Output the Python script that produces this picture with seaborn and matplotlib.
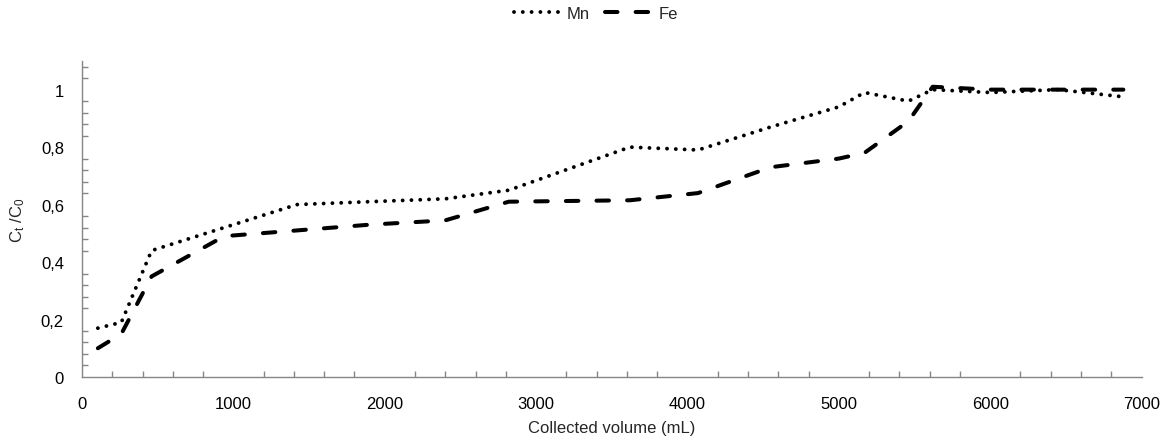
import matplotlib
matplotlib.use('Agg')
import matplotlib.pyplot as plt
import pandas as pd
import seaborn as sns
from matplotlib.ticker import MultipleLocator, FuncFormatter

# collected volume (mL) and normalised concentrations Ct/C0
volume = [105, 260, 460, 940, 1420, 1900, 2400, 2820, 3620, 4070, 4550, 5000,
          5170, 5460, 5620, 6000, 6450, 6880]
mn = [0.17, 0.19, 0.44, 0.52, 0.60, 0.61, 0.62, 0.65, 0.80, 0.79, 0.87, 0.94,
      0.99, 0.96, 1.00, 0.99, 1.00, 0.975]
fe = [0.10, 0.15, 0.35, 0.49, 0.51, 0.53, 0.545, 0.61, 0.615, 0.64, 0.73, 0.76,
      0.78, 0.89, 1.01, 1.00, 1.00, 1.00]
series = ['Mn', 'Fe']

df = pd.DataFrame({
    'volume': volume * 2,
    'value': mn + fe,
    'metal': ['Mn'] * len(mn) + ['Fe'] * len(fe),
})

sns.set_style("white")
plt.rcParams['font.family'] = ['Liberation Sans', 'DejaVu Sans']
plt.rcParams['mathtext.default'] = 'regular'

fig, ax = plt.subplots(figsize=(11.66, 4.39), dpi=100)
fig.subplots_adjust(left=0.0703, right=0.979, bottom=0.139, top=0.859)

sns.lineplot(data=df[df.metal == 'Mn'], x='volume', y='value', color='black',
             linewidth=2.8, dashes=False, ax=ax, label='Mn')
sns.lineplot(data=df[df.metal == 'Fe'], x='volume', y='value', color='black',
             linewidth=2.9, dashes=False, ax=ax, label='Fe')

lines = ax.get_lines()
lines[0].set_dashes((0.01, 2.25))
lines[0].set_dash_capstyle('round')
lines[1].set_dashes((3.1, 4.5))
lines[1].set_dash_capstyle('round')

ax.set_xlim(0, 7000)
ax.set_ylim(0, 1.1)
ax.xaxis.set_major_locator(MultipleLocator(1000))
ax.xaxis.set_minor_locator(MultipleLocator(200))
ax.yaxis.set_major_locator(MultipleLocator(0.2))
ax.yaxis.set_minor_locator(MultipleLocator(0.04))


def comma_fmt(v, pos):
    if abs(v - round(v)) < 1e-9:
        return f'{int(round(v))}'
    return f'{v:.1f}'.replace('.', ',')


ax.yaxis.set_major_formatter(FuncFormatter(comma_fmt))

for s in ['top', 'right']:
    ax.spines[s].set_visible(False)
for s in ['left', 'bottom']:
    ax.spines[s].set_color('#868686')
    ax.spines[s].set_linewidth(1.0)

ax.tick_params(which='major', direction='inout', length=10, width=1, color='#868686',
               labelsize=12, labelcolor='black')
ax.tick_params(axis='x', which='major', pad=9)
ax.tick_params(axis='y', which='major', pad=8)
ax.tick_params(which='minor', direction='in', length=4, width=1, color='#868686')
ax.tick_params(axis='x', which='minor', bottom=True)
ax.tick_params(axis='y', which='minor', left=True)

ax.set_xlabel('Collected volume (mL)', fontsize=12, labelpad=6)
ax.set_ylabel('C$_t$ /C$_0$', fontsize=12, labelpad=10)

ax.legend(handles=lines, labels=series, loc='lower center', bbox_to_anchor=(0.485, 1.08),
          ncol=2, frameon=False, fontsize=12, handlelength=2.7, columnspacing=0.9,
          handletextpad=0.5)

plt.savefig('out.png', dpi=100)
